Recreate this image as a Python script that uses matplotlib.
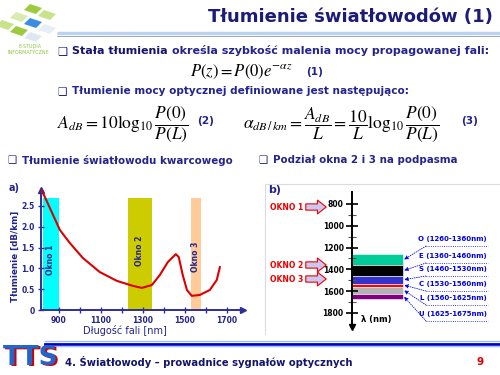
import matplotlib
matplotlib.use('Agg')
import matplotlib.pyplot as plt
from matplotlib.patches import Polygon, FancyArrowPatch

plt.rcParams['mathtext.fontset'] = 'stix'
plt.rcParams['font.family'] = ['DejaVu Sans']

# --- chart a): attenuation of a silica fibre ---
wavelength = [820, 857, 905, 952, 1014, 1095, 1176, 1252, 1295, 1343, 1381,
              1419, 1457, 1471, 1490, 1510, 1533, 1571, 1619, 1652, 1667]
attenuation = [2.86, 2.45, 1.92, 1.61, 1.25, 0.91, 0.70, 0.58, 0.53, 0.60, 0.84,
               1.15, 1.34, 1.27, 0.84, 0.48, 0.34, 0.36, 0.48, 0.72, 1.03]
window_names = ['Okno 1', 'Okno 2', 'Okno 3']
window_start = [824, 1229, 1529]
window_end = [900, 1343, 1576]
window_top = 2.69
window_colors = ['#00ffff', '#cccc00', '#ffcc99']
x_ticks = [900, 1000, 1100, 1200, 1300, 1400, 1500, 1600, 1700]
x_labels = ['900', '', '1100', '', '1300', '', '1500', '', '1700']
y_ticks = [0, 0.5, 1.0, 1.5, 2.0, 2.5]
y_labels = ['0', '0.5', '1.0', '1.5', '2.0', '2.5']

# --- chart b): sub-bands of windows 2 and 3 ---
band_names = ['O', 'E', 'S', 'C', 'L', 'U']
band_start = [1260, 1360, 1460, 1530, 1560, 1625]
band_end = [1360, 1460, 1530, 1560, 1625, 1675]
band_colors = ['#00cc99', '#000000', '#3333cc', '#ff0000', '#b3b3b3', '#800080']
lam_ticks = [800, 1000, 1200, 1400, 1600, 1800]
lam_minor = [900, 1100, 1300, 1500, 1700]

NAVY = '#24248c'
DARK = '#14146a'

fig = plt.figure(figsize=(5, 3.75), dpi=100)
bg = fig.add_axes([0, 0, 1, 1])
bg.set_xlim(0, 500)
bg.set_ylim(375, 0)
bg.axis('off')


def px_axes(x0, y0, x1, y1):
    a = fig.add_axes([x0 / 500, (375 - y1) / 375, (x1 - x0) / 500, (y1 - y0) / 375])
    a.patch.set_alpha(0)
    return a


# logo top-left
tiles = [((30, 4), '#9ccc3c'), ((44, 10), '#c9e38d'), ((16, 12), '#d8ebb0'),
         ((30, 18), '#3a8ee0'), ((16, 26), '#9ccc3c'), ((44, 24), '#e8eef5'),
         ((2, 20), '#c9e38d'), ((30, 32), '#dfe8f0')]
for (cx, cy), c in tiles:
    bg.add_patch(Polygon([(cx, cy), (cx + 12, cy + 4), (cx + 6, cy + 10), (cx - 6, cy + 6)],
                         closed=True, color=c, lw=0))
bg.text(30, 46, 'E-STUDIA', fontsize=3.5, color='#8cc63f', ha='center', va='center')
bg.text(28, 53, 'INFORMATYCZNE', fontsize=3.5, color='#8cc63f', ha='center', va='center')

# title and its rule
bg.text(493, 17, 'Tłumienie światłowodów (1)', ha='right', va='center',
        fontsize=13, color='#1c1c78', fontweight='bold')
bg.plot([57, 500], [33, 33], color='#b8d4f0', lw=2.5, solid_capstyle='butt')
bg.plot([57, 500], [35.5, 35.5], color='#9a9a9a', lw=0.6)


def bullet(x, y, parts, size=7.6):
    bg.text(x, y, '❑', fontsize=size, color=NAVY, va='center', ha='left')
    prev = None
    for txt, col in parts:
        if prev is None:
            prev = bg.text(x + 15, y, txt, fontsize=size, color=col,
                           fontweight='bold', va='center', ha='left')
        else:
            prev = bg.annotate(txt, xy=(1, 0), xycoords=prev, va='bottom', ha='left',
                               fontsize=size, color=col, fontweight='bold')


bullet(57, 51, [('Stała tłumienia ', DARK),
                ('określa szybkość malenia mocy propagowanej fali:', NAVY)], size=8.0)
bg.text(241, 72, r'$P\left(z\right)=P\left(0\right)e^{-\alpha z}$', fontsize=12,
        ha='center', va='center')
bg.text(315, 72, '(1)', fontsize=7.6, color=NAVY, fontweight='bold', ha='center', va='center')

bullet(57, 91, [('Tłumienie mocy optycznej definiowane jest następująco:', NAVY)])
bg.text(123, 124, r'$A_{dB}=10\log_{10}\dfrac{P(0)}{P(L)}$', fontsize=12.5,
        ha='center', va='center')
bg.text(206, 121, '(2)', fontsize=7.6, color=NAVY, fontweight='bold', ha='center', va='center')
bg.text(341, 124, r'$\alpha_{dB\,/\,km}=\dfrac{A_{dB}}{L}=\dfrac{10}{L}\log_{10}\dfrac{P(0)}{P(L)}$',
        fontsize=12.5, ha='center', va='center')
bg.text(470, 121, '(3)', fontsize=7.6, color=NAVY, fontweight='bold', ha='center', va='center')

bullet(7, 160, [('Tłumienie światłowodu kwarcowego', NAVY)], size=7.4)
bullet(258, 160, [('Podział okna 2 i 3 na podpasma', NAVY)], size=7.4)

# ---------------- chart a) ----------------
bg.text(9, 188, 'a)', fontsize=7, color=NAVY, fontweight='bold', va='center')
ax = px_axes(41, 190, 243, 310)
ax.set_xlim(815, 1777)
ax.set_ylim(0, 2.88)
for s in ['top', 'right']:
    ax.spines[s].set_visible(False)
for s in ['left', 'bottom']:
    ax.spines[s].set_color('#2e2e99')
    ax.spines[s].set_linewidth(1.4)
ax.plot(1, 0, '>', color='#2e2e99', ms=4, transform=ax.transAxes, clip_on=False)
ax.plot(0, 1, '^', color='#2e2e99', ms=4, transform=ax.transAxes, clip_on=False)

ax.bar([(s + e) / 2 for s, e in zip(window_start, window_end)],
       [window_top] * 3, width=[e - s for s, e in zip(window_start, window_end)],
       color=window_colors, zorder=1)
label_y = [1.2, 1.42, 1.27]
for name, s, e, ly in zip(window_names, window_start, window_end, label_y):
    ax.text((s + e) / 2, ly, name, rotation=90, ha='center', va='center',
            fontsize=5.5, color=NAVY, fontweight='bold')
ax.plot(wavelength, attenuation, color='#dd0000', lw=1.5, zorder=3, clip_on=False)

ax.set_xticks(x_ticks)
ax.set_xticklabels(x_labels)
ax.set_yticks(y_ticks)
ax.set_yticklabels(y_labels)
ax.tick_params(direction='inout', length=5, width=1, color='#2e2e99',
               labelsize=5.5, labelcolor=NAVY, pad=2)
for lab in ax.get_xticklabels() + ax.get_yticklabels():
    lab.set_fontweight('bold')
bg.text(15, 256, 'Tłumienie [dB/km]', rotation=90, fontsize=6.3, color=NAVY,
        fontweight='bold', ha='center', va='center')
bg.text(125, 331, 'Długość fali [nm]', fontsize=7, color=NAVY, ha='center', va='center')

# ---------------- chart b) ----------------
bg.plot([265, 265, 500], [334, 184, 184], color='#dcdcdc', lw=0.8)
bg.text(268, 190, 'b)', fontsize=8, color=NAVY, fontweight='bold', va='center')
bx = px_axes(265, 185, 500, 334)
bx.set_xlim(265, 500)
bx.set_ylim(1993, 626)
for s in ['top', 'right', 'bottom']:
    bx.spines[s].set_visible(False)
bx.spines['left'].set_position(('data', 352))
bx.spines['left'].set_bounds(690, 1915)
bx.spines['left'].set_linewidth(1.4)
bx.plot(352, 1925, 'v', color='black', ms=5, clip_on=False)
bx.set_xticks([])
bx.set_yticks(lam_ticks)
bx.set_yticks(lam_minor, minor=True)
bx.tick_params(axis='y', which='major', direction='inout', length=8, width=1.2,
               labelsize=5.5, pad=2)
bx.tick_params(axis='y', which='minor', direction='inout', length=6, width=0.8,
               color='#555555')
for lab in bx.get_yticklabels():
    lab.set_fontweight('bold')
bx.text(361, 1860, 'λ (nm)', fontsize=6, fontweight='bold', va='center')

bx.bar([377.5] * len(band_start), [e - s for s, e in zip(band_start, band_end)],
       bottom=band_start, width=51, color=band_colors, edgecolor='white', lw=0.4)

label_px_y = [239, 256, 269, 284, 298, 314]
for name, s, e, ly in zip(band_names, band_start, band_end, label_px_y):
    bg.text(487, ly, f'{name} ({s}-{e}nm)', fontsize=5.0, color='#0000ee',
            fontweight='bold', ha='right', va='center')
    bg.plot([426, 488], [ly + 7, ly + 7], color='#0000ee', lw=0.6, ls=':')
    bx.annotate('', xy=(404, (s + e) / 2), xycoords='data',
                xytext=(426, ly + 7), textcoords=bg.transData,
                arrowprops=dict(arrowstyle='-|>', color='#0000ee', lw=0.6, ls=':',
                                mutation_scale=6, shrinkA=0, shrinkB=0))

okno_y = [207, 265, 279]
for i, oy in enumerate(okno_y):
    bg.text(270, oy, f'OKNO {i + 1}', fontsize=5.5, color='#ee0000', fontweight='bold',
            va='center', ha='left')
    bg.add_patch(FancyArrowPatch((303, oy), (329, oy),
                                 arrowstyle='simple,head_length=0.7,head_width=1.1,tail_width=0.5',
                                 mutation_scale=9, fc='#c8c8f0', ec='#ee0000', lw=0.8))

# ---------------- footer ----------------
bg.plot([45, 500], [341, 341], color='#9fc0f0', lw=1)
bg.plot([45, 500], [343.5, 343.5], color='#0000cc', lw=2)
bg.plot([45, 500], [346, 346], color='#9fc0f0', lw=1)
bg.text(4.5, 359.5, 'TTS', fontsize=19, fontweight='bold', color='#cc0000',
        va='center', ha='left')
bg.text(3, 358, 'TTS', fontsize=19, fontweight='bold', color='#2266cc',
        va='center', ha='left')
bg.text(65, 362, '4. Światłowody – prowadnice sygnałów optycznych', fontsize=7.2,
        fontweight='bold', color=DARK, va='center', ha='left')
bg.text(480, 362, '9', fontsize=7.5, fontweight='bold', color='#dd0000',
        va='center', ha='center')

fig.savefig('out.png', dpi=100)
